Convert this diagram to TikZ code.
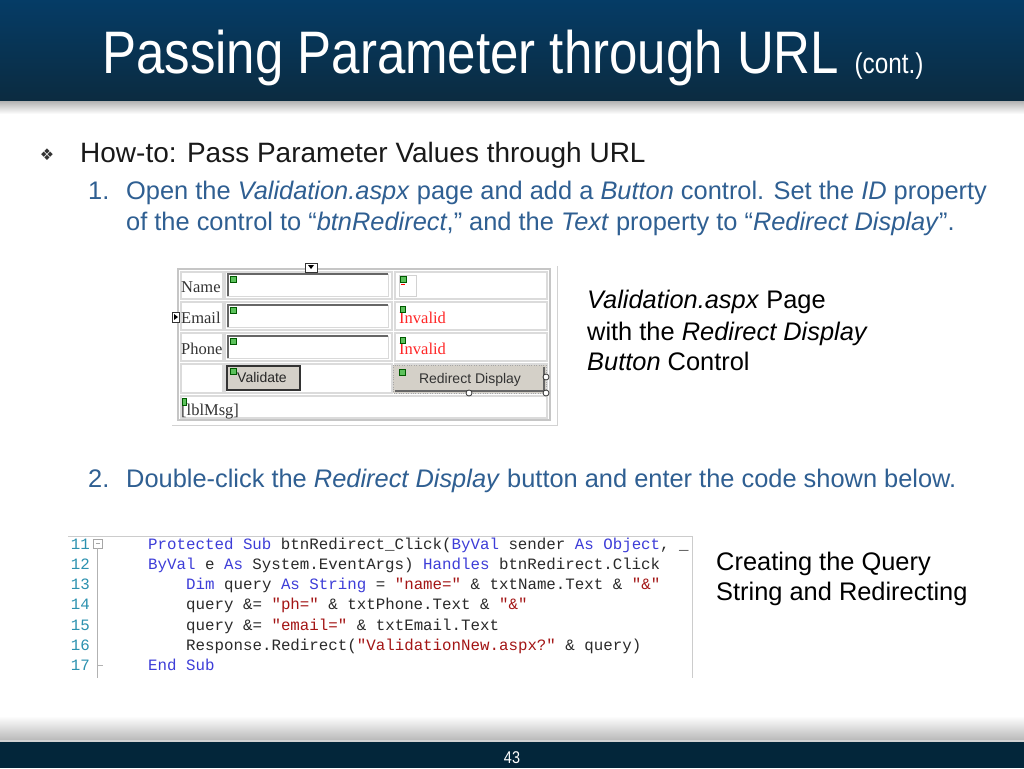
\documentclass[tikz,border=0pt]{standalone}
\usepackage{fontspec}
\setmainfont{Liberation Sans}
\setmonofont{Liberation Mono}
\newfontfamily\titlefont[FakeStretch = 0.85]{Liberation Sans}
\newfontfamily\symfont{DejaVu Sans}
\newfontfamily\formfont{Liberation Serif}
\usepackage{xcolor}
\usepackage{tikz}
\usetikzlibrary{calc}
\usetikzlibrary{positioning}
\definecolor{bartop}{HTML}{053C66}
\definecolor{barbot}{HTML}{0B2B40}
\definecolor{footbar}{HTML}{03263A}
\definecolor{itemblue}{HTML}{2F5F92}
\definecolor{lnteal}{HTML}{2B91AF}
\definecolor{vbblue}{HTML}{3D3DD8}
\definecolor{vbred}{HTML}{A31515}
\definecolor{codetext}{HTML}{2A2A2A}
\definecolor{btngray}{HTML}{D4D0C8}
\definecolor{icongreen}{HTML}{5CC15C}
\newcommand{\vbkw}[1]{\textcolor{vbblue}{#1}}
\newcommand{\vbstr}[1]{\textcolor{vbred}{#1}}
\tikzstyle{txt} = [anchor = base west, inner sep = 0]
\tikzstyle{itemline} = [txt, text = itemblue, font = \fontsize{25.4}{30}\selectfont]
\tikzstyle{capline} = [txt, text = black, font = \fontsize{25.4}{30}\selectfont]
\tikzstyle{codeline} = [txt, text = codetext, font = \ttfamily\fontsize{15.8}{18}\selectfont]
\tikzstyle{lineno} = [anchor = base east, inner sep = 0, text = lnteal, font = \ttfamily\fontsize{15.8}{18}\selectfont]
\tikzstyle{formlabel} = [txt, text = black!80, font = \formfont\fontsize{16.5}{18}\selectfont]
\tikzstyle{cell} = [draw = gray!28, line width = 1.3]
\tikzstyle{icon} = [fill = icongreen, draw = green!35!black, line width = 0.5]

\begin{document}
\begin{tikzpicture}[x = 1pt, y = -1pt]
\useasboundingbox (0, 0) rectangle (1024, 768);
\fill [white] (0, 0) rectangle (1024, 768);
% header and footer bars
\shade [top color = bartop, bottom color = barbot] (0, 0) rectangle (1024, 101);
\shade [top color = gray!60, bottom color = white] (0, 101) rectangle (1024, 114);
\shade [top color = white, bottom color = gray!55] (0, 716) rectangle (1024, 740);
\fill [gray!35] (0, 740) rectangle (1024, 742);
\fill [footbar] (0, 742) rectangle (1024, 768);
\node [txt, text = white, font = \titlefont\fontsize{60}{60}\selectfont] (T) at (102, 73) {Passing Parameter through URL};
\node [txt, text = white, font = \titlefont\fontsize{28.6}{30}\selectfont] (Tc) at ([xshift = 15]T.base east) {(cont.)};
\node [anchor = base, inner sep = 0, text = white, font = \titlefont\fontsize{17}{18}\selectfont] (P) at (512, 763) {43};

% bullet and steps
\node [inner sep = 0, text = black!80, font = \symfont\fontsize{16}{16}\selectfont] (Bu) at (47, 155) {❖};
\node [txt, text = black!90, font = \fontsize{28}{31}\selectfont] (H) at (80, 162) {How-to: Pass Parameter Values through URL};
\node [itemline] (S1) at (88, 199) {1.};
\node [itemline] (S1a) at (126, 199) {Open the \textit{Validation.aspx} page and add a \textit{Button} control. Set the \textit{ID} property};
\node [itemline] (S1b) at (126, 230) {of the control to “\textit{btnRedirect},” and the \textit{Text} property to “\textit{Redirect Display}”.};
\node [itemline] (S2) at (88, 487) {2.};
\node [itemline] (S2a) at (126, 487) {Double-click the \textit{Redirect Display} button and enter the code shown below.};

% captions
\node [capline] (C1a) at (587, 308) {\textit{Validation.aspx} Page};
\node [capline] (C1b) at (587, 340) {with the \textit{Redirect Display}};
\node [capline] (C1c) at (587, 370) {\textit{Button} Control};
\node [capline] (C2a) at (716, 570) {Creating the Query};
\node [capline] (C2b) at (716, 600) {String and Redirecting};

% form designer screenshot
\draw [gray!35] (172, 425) -- (557, 425) -- (557, 266);
\draw [gray!45, line width = 1.5] (178, 269) rectangle (550, 420);
\foreach \ya/\yb in {272/299, 302/330, 333/361, 364/393} {
  \draw [cell] (181, \ya) rectangle (223, \yb);
  \draw [cell] (225, \ya) rectangle (392, \yb);
  \draw [cell] (395, \ya) rectangle (547, \yb);
}
\draw [cell] (181, 396) rectangle (547, 418);
\foreach \ya/\yb in {274/296, 305/327, 336/358} {
  \fill [white] (227, \ya) rectangle (388, \yb);
  \draw [gray!30] (227, \yb) -- (388, \yb) -- (388, \ya);
  \draw [black!60, line width = 2] (228, \yb) -- (228, \ya) -- (388, \ya);
  \draw [icon] (230, {\ya + 2}) rectangle (236, {\ya + 8});
}
\node [formlabel] (LN) at (181, 292) {Name};
\node [formlabel] (LE) at (181, 323) {Email};
\node [formlabel] (LP) at (181, 354) {Phone};
\node [formlabel] (LM) at (181, 415) {[lblMsg]};
\draw [icon] (182, 398) rectangle (186, 405);
% validators
\draw [gray!35] (399, 275) rectangle (416, 296);
\draw [icon] (400, 276) rectangle (406, 282);
\draw [red, line width = 1] (401, 284) -- (405, 284);
\node [formlabel, text = red!85] (V2) at (399, 323) {Invalid};
\node [formlabel, text = red!85] (V3) at (399, 354) {Invalid};
\draw [icon] (400, 306) rectangle (405, 312);
\draw [icon] (400, 337) rectangle (405, 343);
% buttons
\draw [fill = btngray, draw = black!80, line width = 1.5] (227, 366) rectangle (300, 390);
\draw [icon] (230, 368) rectangle (236, 374);
\node [txt, text = black!85, font = \fontsize{14}{16}\selectfont] (BV) at (237, 382) {Validate};
\draw [fill = btngray, draw = gray!70, dotted] (393, 365) rectangle (546, 393);
\draw [black!60, line width = 1.2] (395, 391) -- (544, 391) -- (544, 367);
\draw [icon] (399, 369) rectangle (405, 375);
\node [anchor = base, inner sep = 0, text = black!80, font = \fontsize{14}{16}\selectfont] (BR) at (470, 383) {Redirect Display};
\foreach \hx/\hy in {546/377, 469/393, 546/393}
  \draw [fill = white, draw = black!80, line width = 0.8] (\hx, \hy) circle (3);
% designer glyphs
\draw [fill = white, draw = black!80, line width = 0.8] (305, 263) rectangle (317, 272);
\fill [black] (308, 265) -- (314, 265) -- (311, 269) -- cycle;
\draw [fill = white, draw = black!80, line width = 0.6] (172, 312) rectangle (179, 322);
\fill [black] (174, 314) -- (178, 317) -- (174, 320) -- cycle;

% code editor screenshot
\draw [gray!40] (68, 536) -- (692, 536) -- (692, 678);
\foreach \n [count = \i from 0] in {11, 12, 13, 14, 15, 16, 17}
  \node [lineno] (N\n) at (90, {549 + 20.3*\i}) {\n};
\draw [gray!70, line width = 0.8] (93.5, 539.5) rectangle (102, 548);
\draw [gray!70, line width = 0.8] (95.5, 543.75) -- (100, 543.75);
\draw [gray!60, line width = 0.8] (97.75, 548) -- (97.75, 678);
\draw [gray!60, line width = 0.8] (97.75, 665) -- (103, 665);
\node [codeline] (K11) at (148, 549) {\vbkw{Protected Sub} btnRedirect\_Click(\vbkw{ByVal} sender \vbkw{As Object}, \_};
\node [codeline] (K12) at (148, 569.3) {\vbkw{ByVal} e \vbkw{As} System.EventArgs) \vbkw{Handles} btnRedirect.Click};
\node [codeline] (K13) at (186, 589.6) {\vbkw{Dim} query \vbkw{As String} = \vbstr{"name="} \& txtName.Text \& \vbstr{"\&"}};
\node [codeline] (K14) at (186, 609.9) {query \&= \vbstr{"ph="} \& txtPhone.Text \& \vbstr{"\&"}};
\node [codeline] (K15) at (186, 630.2) {query \&= \vbstr{"email="} \& txtEmail.Text};
\node [codeline] (K16) at (186, 650.5) {Response.Redirect(\vbstr{"ValidationNew.aspx?"} \& query)};
\node [codeline] (K17) at (148, 670.8) {\vbkw{End Sub}};
\end{tikzpicture}
\end{document}
